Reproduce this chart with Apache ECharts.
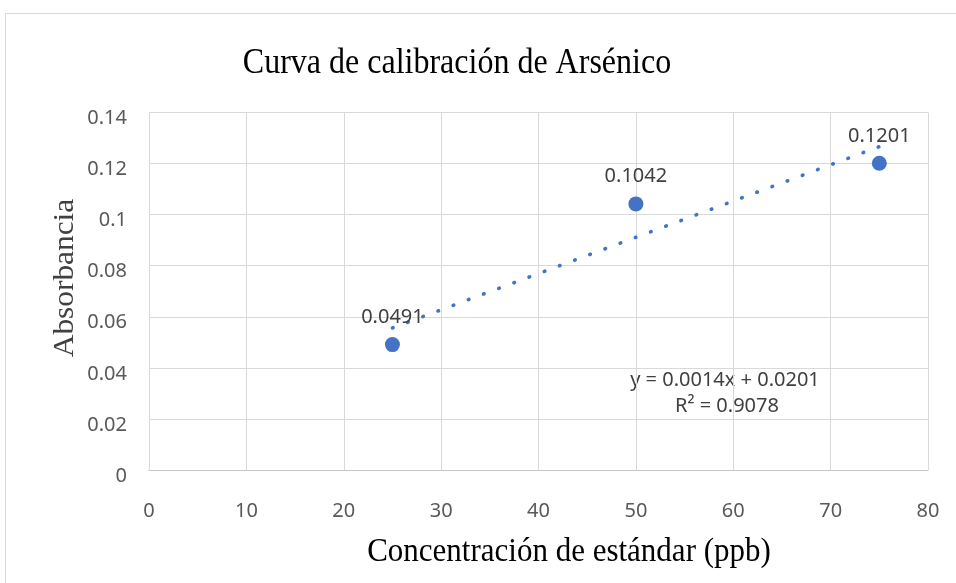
<!DOCTYPE html>
<html>
<head>
<meta charset="utf-8">
<script src="https://cdn.jsdelivr.net/npm/echarts@6/dist/echarts.min.js"></script>
<style>
html,body{margin:0;padding:0;background:#fff;}
#chart{width:956px;height:583px;}
</style>
</head>
<body>
<div id="chart"></div>
<script>
// ---- data ----
const concentrations = [25, 50, 75];
const absorbances = [0.0491, 0.1042, 0.1201];
const dataLabels = ['0.0491', '0.1042', '0.1201'];
const xTicks = [0, 10, 20, 30, 40, 50, 60, 70, 80];
const yTicks = [0, 0.02, 0.04, 0.06, 0.08, 0.1, 0.12, 0.14];
const equationLines = ['y = 0.0014x + 0.0201', 'R² = 0.9078'];
const titleText = 'Curva de calibración de Arsénico';
const xAxisTitle = 'Concentración de estándar (ppb)';
const yAxisTitle = 'Absorbancia';

// linear least-squares trendline from the data
const n = concentrations.length;
const mx = concentrations.reduce((a, b) => a + b, 0) / n;
const my = absorbances.reduce((a, b) => a + b, 0) / n;
let sxy = 0, sxx = 0;
for (let i = 0; i < n; i++) {
  sxy += (concentrations[i] - mx) * (absorbances[i] - my);
  sxx += (concentrations[i] - mx) * (concentrations[i] - mx);
}
const slope = sxy / sxx;
const intercept = my - slope * mx;
const xFirst = concentrations[0], xLast = concentrations[n - 1];
const trendData = [[xFirst, intercept + slope * xFirst], [xLast, intercept + slope * xLast]];

const blue = '#4472C4';
const chart = echarts.init(document.getElementById('chart'), null, {renderer: 'canvas'});
chart.setOption({
  backgroundColor: '#ffffff',
  animation: false,
  grid: {left: 149, right: 28, top: 112.5, bottom: 113, containLabel: false},
  xAxis: {
    type: 'value', min: xTicks[0], max: xTicks[xTicks.length - 1], interval: xTicks[1] - xTicks[0],
    axisLine: {show: true, lineStyle: {color: '#c6c6c6', width: 1}},
    axisTick: {show: false},
    axisLabel: {color: '#595959', fontFamily: 'Noto Sans', fontSize: 20, margin: 31},
    splitLine: {show: true, lineStyle: {color: '#d9d9d9', width: 1}}
  },
  yAxis: {
    type: 'value', min: yTicks[0], max: yTicks[yTicks.length - 1], interval: 0.02,
    axisLine: {show: true, lineStyle: {color: '#d9d9d9', width: 1}},
    axisTick: {show: false},
    axisLabel: {color: '#595959', fontFamily: 'Noto Sans', fontSize: 20, margin: 22,
      verticalAlign: 'top', lineHeight: 12,
      formatter: v => String(Math.round(v * 100) / 100)},
    splitLine: {show: true, lineStyle: {color: '#d9d9d9', width: 1}}
  },
  series: [
    {
      type: 'line',
      data: trendData,
      showSymbol: false,
      symbol: 'none',
      lineStyle: {color: blue, width: 3.6, type: [0.6, 15.6], cap: 'round', opacity: 1},
      z: 2,
      silent: true
    },
    {
      type: 'scatter',
      data: concentrations.map((x, i) => [x, absorbances[i]]),
      symbol: 'circle',
      symbolSize: 15,
      itemStyle: {color: blue, opacity: 1},
      label: {
        show: true, position: 'top', distance: 10,
        color: '#404040', fontFamily: 'Noto Sans', fontSize: 20,
        formatter: p => dataLabels[p.dataIndex]
      },
      z: 3
    }
  ],
  graphic: [
    {type: 'rect', shape: {x: 5.5, y: 13.5, width: 1000, height: 700},
     style: {fill: 'none', stroke: '#d9d9d9', lineWidth: 1}, silent: true, z: -10},
    {type: 'text', x: 457, y: 70, scaleY: 1.09, originX: 457, originY: 70,
     style: {text: titleText, font: '32px "Liberation Serif"', fill: '#000000',
       textAlign: 'center', textVerticalAlign: 'middle'}},
    {type: 'text', x: 569, y: 552, scaleY: 1.08,
     style: {text: xAxisTitle, font: '31px "Liberation Serif"', fill: '#000000',
       textAlign: 'center', textVerticalAlign: 'middle'}},
    {type: 'text', x: 66, y: 278, rotation: Math.PI / 2, scaleX: 1.1,
     style: {text: yAxisTitle, font: '28.5px "Liberation Serif"', fill: '#404040',
       textAlign: 'center', textVerticalAlign: 'middle'}},
    {type: 'text', x: 725, y: 380,
     style: {text: equationLines[0], font: '20px "Noto Sans"', fill: '#404040',
       textAlign: 'center', textVerticalAlign: 'middle'}},
    {type: 'text', x: 727, y: 406,
     style: {text: equationLines[1], font: '20px "Noto Sans"', fill: '#404040',
       textAlign: 'center', textVerticalAlign: 'middle'}}
  ]
});
</script>
</body>
</html>
